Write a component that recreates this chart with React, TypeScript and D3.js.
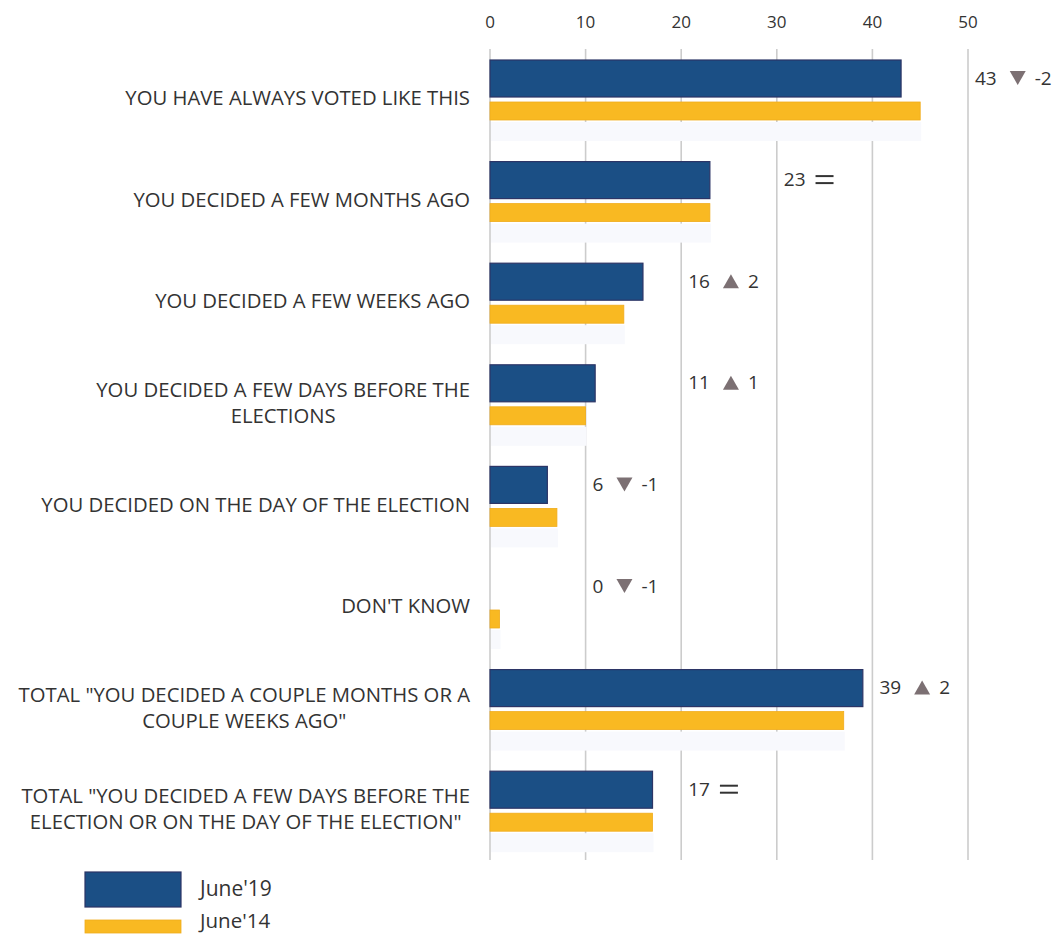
import React from "react";
import * as d3 from "d3";

const categories: string[][] = [
  ["YOU HAVE ALWAYS VOTED LIKE THIS"],
  ["YOU DECIDED A FEW MONTHS AGO"],
  ["YOU DECIDED A FEW WEEKS AGO"],
  ["YOU DECIDED A FEW DAYS BEFORE THE", "ELECTIONS"],
  ["YOU DECIDED ON THE DAY OF THE ELECTION"],
  ["DON'T KNOW"],
  ['TOTAL "YOU DECIDED A COUPLE MONTHS OR A', 'COUPLE WEEKS AGO"'],
  ['TOTAL "YOU DECIDED A FEW DAYS BEFORE THE', 'ELECTION OR ON THE DAY OF THE ELECTION"'],
];
const june19 = [43, 23, 16, 11, 6, 0, 39, 17];
const june14 = [45, 23, 14, 10, 7, 1, 37, 17];
const tickValues = [0, 10, 20, 30, 40, 50];
const seriesNames = ["June'19", "June'14"];

const W = 1059;
const H = 936;
const FONT = "'Open Sans', sans-serif";
const LABEL_SIZE = 20.3;
const ANN_SIZE = 19;
const TEXT = "#333333";
const BLUE = "#1b4f85";
const BLUE_STROKE = "#2c3566";
const YELLOW = "#f9b922";
const YELLOW_STROKE = "#f0ac1c";
const SHADOW = "#f8f9fd";
const GRID = "#cccccc";
const ARROW = "#7c7073";

let ctx: CanvasRenderingContext2D | null = null;
function measure(text: string, size: number) {
  if (!ctx) ctx = document.createElement("canvas").getContext("2d");
  if (!ctx) return text.length * size * 0.6;
  ctx.font = `${size}px ${FONT}`;
  return ctx.measureText(text).width;
}

export default function App() {
  const x = d3.scaleLinear().domain([0, 50]).range([490, 968]);
  const idx = d3.range(categories.length);
  const row = d3.scaleBand<number>().domain(idx).range([60, 60 + 101.6 * categories.length]).paddingInner(0).paddingOuter(0);
  const labelRight = 470;

  return (
    <svg width={W} height={H} style={{ position: "absolute", left: 0, top: 0, background: "#fff" }} fontFamily={FONT}>
      {tickValues.map((t) => (
        <g key={t}>
          <line x1={x(t)} x2={x(t)} y1={49} y2={860} stroke={GRID} strokeWidth={1.6} />
          <text x={x(t)} y={28} textAnchor="middle" fontSize={17} fill={TEXT}>
            {t}
          </text>
        </g>
      ))}
      {idx.map((i) => {
        const y0 = row(i)!;
        const lines = categories[i];
        const maxW = d3.max(lines, (l) => measure(l, LABEL_SIZE))!;
        const lh = 26;
        const cy = y0 + 38;
        const startY = cy - ((lines.length - 1) * lh) / 2;
        const v19 = june19[i];
        const v14 = june14[i];
        const delta = v19 - v14;
        const annX = x(Math.max(10, Math.ceil(Math.max(v19, v14) / 10) * 10)) + 7;
        const annY = y0 + 18;
        const numStr = String(v19);
        const numW = measure(numStr, ANN_SIZE);
        return (
          <g key={i}>
            <rect x={x(0) + 1} y={y0 + 62} width={x(v14) - x(0)} height={19} fill={SHADOW} />
            {v19 > 0 && (
              <rect x={x(0)} y={y0} width={x(v19) - x(0)} height={37} fill={BLUE} stroke={BLUE_STROKE} strokeWidth={1.2} />
            )}
            <rect x={x(0)} y={y0 + 42} width={x(v14) - x(0)} height={18} fill={YELLOW} stroke={YELLOW_STROKE} strokeWidth={0.8} />
            {lines.map((l, k) => (
              <text
                key={k}
                x={lines.length > 1 ? labelRight - maxW / 2 : labelRight}
                y={startY + k * lh}
                dy="0.35em"
                textAnchor={lines.length > 1 ? "middle" : "end"}
                fontSize={LABEL_SIZE}
                fill={TEXT}
              >
                {l}
              </text>
            ))}
            <text x={annX} y={annY} dy="0.35em" fontSize={ANN_SIZE} fill={TEXT}>
              {numStr}
            </text>
            {delta === 0 ? (
              <g>
                <line x1={annX + numW + 10} x2={annX + numW + 28} y1={annY - 3.5} y2={annY - 3.5} stroke={TEXT} strokeWidth={2} />
                <line x1={annX + numW + 10} x2={annX + numW + 28} y1={annY + 3.5} y2={annY + 3.5} stroke={TEXT} strokeWidth={2} />
              </g>
            ) : (
              <g>
                <path
                  d={
                    delta > 0
                      ? `M${annX + numW + 13},${annY + 7} L${annX + numW + 21},${annY - 7} L${annX + numW + 29},${annY + 7} Z`
                      : `M${annX + numW + 13},${annY - 7} L${annX + numW + 21},${annY + 7} L${annX + numW + 29},${annY - 7} Z`
                  }
                  fill={ARROW}
                />
                <text x={annX + numW + 38} y={annY} dy="0.35em" fontSize={ANN_SIZE} fill={TEXT}>
                  {String(delta)}
                </text>
              </g>
            )}
          </g>
        );
      })}
      <rect x={85} y={872} width={96} height={35} fill={BLUE} stroke={BLUE_STROKE} strokeWidth={1.2} />
      <text x={200} y={889} dy="0.35em" fontSize={21} fill={TEXT}>
        {seriesNames[0]}
      </text>
      <rect x={85} y={920} width={96} height={13} fill={YELLOW} stroke={YELLOW_STROKE} strokeWidth={0.8} />
      <text x={200} y={921} dy="0.35em" fontSize={20.5} fill={TEXT}>
        {seriesNames[1]}
      </text>
    </svg>
  );
}
